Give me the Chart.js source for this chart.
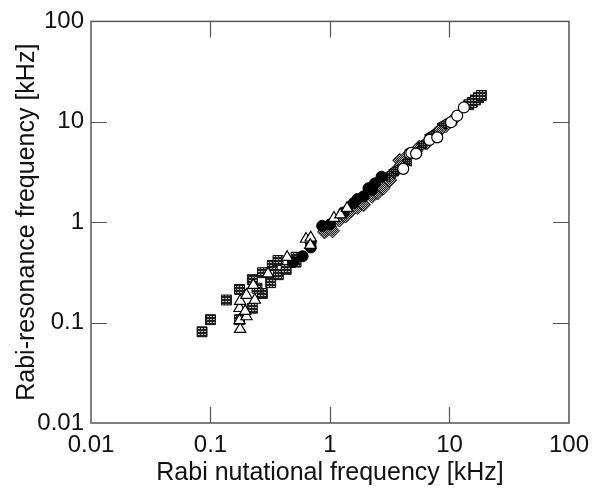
<!DOCTYPE html>
<html>
<head>
<meta charset="utf-8">
<script src="https://cdn.jsdelivr.net/npm/chart.js@4"></script>
<style>
html,body{margin:0;padding:0;background:#fff;}
#wrap{width:597px;height:491px;}
</style>
</head>
<body>
<div id="wrap"><canvas id="c" width="597" height="491"></canvas></div>
<script>
// ---- data (kHz) ----
const axisTicks = [0.01, 0.1, 1, 10, 100];
const xTitle = 'Rabi nutational frequency [kHz]';
const yTitle = 'Rabi-resonance frequency [kHz]';

const squaresX = [0.085, 0.1, 0.136, 0.175, 0.175, 0.224, 0.272, 0.224, 0.272, 0.319, 0.329, 0.367, 0.37, 0.43, 0.52, 0.52, 0.245, 14.5, 15.5, 16.5, 17.5, 18.5];
const squaresY = [0.081, 0.107, 0.168, 0.107, 0.214, 0.139, 0.195, 0.268, 0.314, 0.25, 0.371, 0.416, 0.3, 0.339, 0.448, 0.40, 0.22, 14.8, 15.6, 16.5, 17.4, 18.3];

const openTriX = [0.177, 0.175, 0.2, 0.175, 0.195, 0.177, 0.2, 0.235, 0.228, 0.303, 0.438, 0.63, 0.69, 0.684, 1.08, 1.22, 1.39];
const openTriY = [0.086, 0.105, 0.115, 0.139, 0.13, 0.164, 0.188, 0.168, 0.236, 0.307, 0.448, 0.68, 0.70, 0.59, 1.1, 1.19, 1.38];

const filledCircX = [0.49, 0.59, 0.69, 0.69, 0.86, 1.0, 1.3, 1.58, 1.7, 1.91, 2.1, 2.25, 2.38, 2.7];
const filledCircY = [0.40, 0.458, 0.56, 0.63, 0.92, 0.95, 1.25, 1.55, 1.7, 1.81, 2.18, 2.1, 2.44, 2.84];

const diamondX = [0.9, 0.95, 1.0, 1.05, 1.2, 1.35, 1.5, 1.7, 1.91, 2.25, 2.5, 2.79, 3.16, 3.6, 3.83, 3.96, 4.2, 5.6, 6.5, 7.24, 7.7, 8.2, 9.3, 10.5];
const diamondY = [0.8, 0.85, 0.9, 0.82, 1.05, 1.15, 1.3, 1.4, 1.49, 1.81, 1.95, 2.19, 2.62, 3.3, 4.14, 3.7, 4.3, 5.6, 6.2, 7.03, 7.6, 8.17, 9.1, 10.2];

const openCircX = [4.1, 4.64, 4.8, 5.25, 6.8, 7.9, 10.3, 11.6, 13.2];
const openCircY = [3.4, 4.82, 4.9, 4.82, 6.6, 7.0, 9.9, 11.5, 13.9];

const filledTriX = [2.98, 3.3, 3.5, 4.5, 5.5, 5.98, 7.0, 8.9, 10.8];
const filledTriY = [2.84, 3.1, 3.3, 4.1, 5.2, 6.04, 7.4, 9.5, 10.6];

function pts(xs, ys){ return xs.map((x,i)=>({x:x, y:ys[i]})); }

const canvas = document.getElementById('c');
const ctx0 = canvas.getContext('2d');
function makePattern(size, bg, fg, cells){
  const c = document.createElement('canvas');
  c.width = size; c.height = size;
  const g = c.getContext('2d');
  g.fillStyle = bg; g.fillRect(0,0,size,size);
  g.fillStyle = fg;
  cells.forEach(p=>g.fillRect(p[0],p[1],1,1));
  return ctx0.createPattern(c,'repeat');
}
const squarePat = makePattern(3, '#222', '#bdbdbd', [[1,1],[0,1]]);
const diamondPat = makePattern(2, '#222', '#b0b0b0', [[0,0],[1,1]]);
const triPat = makePattern(2, '#1a1a1a', '#777', [[0,0]]);

const FONT = "'Liberation Sans', Arial, Helvetica, sans-serif";

const framePlugin = {
  id: 'frame',
  beforeDatasetsDraw(chart){
    const {ctx, chartArea:a, scales:{x, y}} = chart;
    ctx.save();
    ctx.strokeStyle = '#555';
    ctx.lineWidth = 1.5;
    ctx.strokeRect(a.left, a.top, a.right - a.left, a.bottom - a.top);
    const L = 16;
    ctx.beginPath();
    x.ticks.forEach(t=>{
      if (t.value <= 0.01 || t.value >= 100) return;
      const px = Math.round(x.getPixelForValue(t.value)) + 0.5;
      ctx.moveTo(px, a.bottom); ctx.lineTo(px, a.bottom - L);
      ctx.moveTo(px, a.top); ctx.lineTo(px, a.top + L);
    });
    y.ticks.forEach(t=>{
      if (t.value <= 0.01 || t.value >= 100) return;
      const py = Math.round(y.getPixelForValue(t.value)) + 0.5;
      ctx.moveTo(a.left, py); ctx.lineTo(a.left + L, py);
      ctx.moveTo(a.right, py); ctx.lineTo(a.right - L, py);
    });
    ctx.lineWidth = 1.2;
    ctx.stroke();
    ctx.restore();
  }
};

function logScale(title, isX){
  return {
    type: 'logarithmic',
    min: 0.01, max: 100,
    afterBuildTicks: s => { s.ticks = axisTicks.map(v=>({value:v})); },
    afterFit: s => { if (isX) s.height = 68; else s.width = 91; },
    grid: {display:false, drawTicks:false},
    border: {display:false},
    ticks: {
      autoSkip:false, maxRotation:0, minRotation:0,
      padding: isX ? 8 : 7,
      color:'#111',
      font:{family:FONT, size:24},
      callback: v => String(v)
    },
    title: {
      display:true, text:title, color:'#111',
      font:{family:FONT, size:25},
      padding: isX ? {top:0, bottom:3} : {top:12, bottom:0}
    }
  };
}

new Chart(canvas, {
  type: 'scatter',
  data: {
    datasets: [
      {label:'open circles', data:pts(openCircX, openCircY), pointStyle:'circle', pointRadius:5.5, backgroundColor:'#fff', borderColor:'#000', borderWidth:1.2, order:0},
      {label:'open triangles', data:pts(openTriX, openTriY), pointStyle:'triangle', pointRadius:6.5, backgroundColor:'#fff', borderColor:'#000', borderWidth:1.2, order:1},
      {label:'filled circles', data:pts(filledCircX, filledCircY), pointStyle:'circle', pointRadius:5.5, backgroundColor:'#000', borderColor:'#000', borderWidth:1, order:2},
      {label:'filled triangles', data:pts(filledTriX, filledTriY), pointStyle:'triangle', pointRotation:-90, pointRadius:6.5, backgroundColor:triPat, borderColor:'#000', borderWidth:1, order:3},
      {label:'squares', data:pts(squaresX, squaresY), pointStyle:'rect', pointRadius:7, backgroundColor:squarePat, borderColor:'#111', borderWidth:1, order:4},
      {label:'diamonds', data:pts(diamondX, diamondY), pointStyle:'rectRot', pointRadius:7, backgroundColor:diamondPat, borderColor:'#222', borderWidth:1, order:5}
    ]
  },
  options: {
    responsive:false, animation:false,
    layout:{padding:{left:0, top:16, right:22, bottom:0}},
    plugins:{legend:{display:false}, tooltip:{enabled:false}},
    scales:{ x: logScale(xTitle, true), y: logScale(yTitle, false) }
  },
  plugins:[framePlugin]
});
</script>
</body>
</html>
